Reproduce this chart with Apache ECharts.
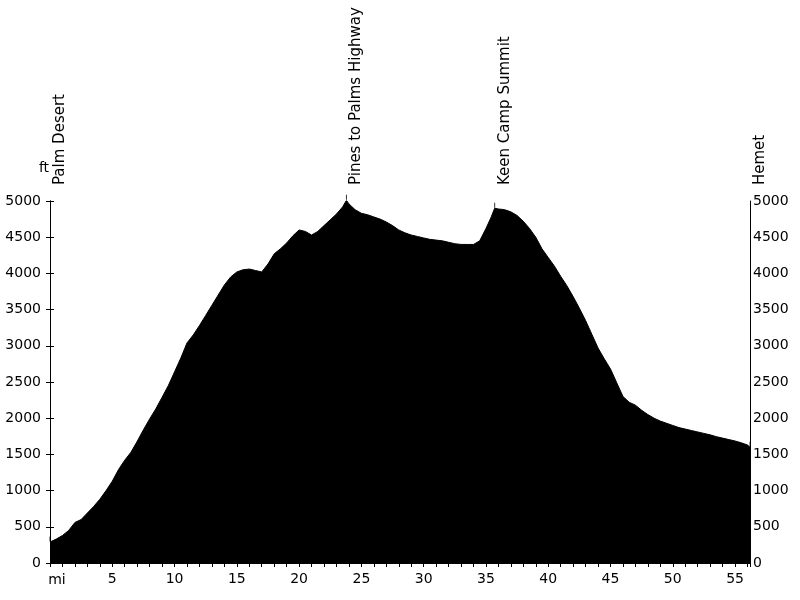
<!DOCTYPE html>
<html><head><meta charset="utf-8">
<script src="https://cdn.jsdelivr.net/npm/echarts@6/dist/echarts.min.js"></script>
<style>html,body{margin:0;padding:0;background:#fff}#c{width:800px;height:600px}</style>
</head><body><div id="c"></div>
<script>
const miles = [0,0.5,1,1.5,2,2.5,3,3.5,4,4.5,5,5.5,6,6.5,7,7.5,8,8.5,9,9.5,10,10.5,11,11.5,12,12.5,13,13.5,14,14.5,15,15.5,16,16.5,17,17.5,18,18.5,19,19.5,20,20.5,21,21.5,22,22.5,23,23.5,23.8,24,24.5,25,25.5,26,26.5,27,27.5,28,28.5,29,29.5,30,30.5,31,31.5,32,32.5,33,33.5,34,34.5,35,35.4,35.7,36,36.5,37,37.5,38,38.5,39,39.5,40,40.5,41,41.5,42,42.5,43,43.5,44,44.5,45,45.5,46,46.5,47,47.5,48,48.5,49,49.5,50,50.5,51,51.5,52,52.5,53,53.5,54,54.5,55,55.5,56,56.2];
const elevation = [290,330,380,450,560,600,690,780,880,1000,1130,1290,1420,1530,1680,1840,1990,2130,2290,2450,2640,2830,3040,3150,3280,3420,3560,3700,3840,3950,4020,4050,4060,4040,4020,4130,4270,4340,4420,4520,4600,4580,4530,4580,4660,4740,4820,4920,5010,4960,4880,4830,4810,4780,4750,4710,4660,4600,4560,4530,4510,4490,4470,4460,4450,4430,4410,4400,4400,4400,4450,4620,4770,4900,4890,4880,4850,4800,4720,4620,4500,4340,4220,4100,3960,3830,3680,3520,3350,3160,2970,2820,2680,2490,2300,2220,2180,2110,2050,2000,1960,1930,1900,1870,1850,1830,1810,1790,1770,1745,1725,1705,1685,1660,1630,1600];
const wpNames = ["Palm Desert","Pines to Palms Highway","Keen Camp Summit","Hemet"];
const wpMiles = [0,23.8,35.7,56.2];
const wpElev = [290,5010,4900,1600];

const FONT = 'DejaVu Sans';
const chart = echarts.init(document.getElementById('c'));
const profile = miles.map((m,i)=>[m,elevation[i]]);
const yBase = {type:'value',min:0,max:5000,interval:500,splitLine:{show:false},
  axisLine:{show:true,lineStyle:{color:'#000',width:1}}};
chart.setOption({
  animation:false,
  grid:{left:50,right:50,top:201,bottom:37,containLabel:false},
  xAxis:{type:'value',min:0,max:56.2,interval:5,
    axisLine:{show:true,lineStyle:{color:'#000'}},
    axisTick:{show:true,length:4,lineStyle:{color:'#000'}},
    minorTick:{show:true,splitNumber:5,length:4,lineStyle:{color:'#000'}},
    splitLine:{show:false},
    axisLabel:{color:'#000',fontFamily:FONT,fontSize:14,margin:9,
      formatter:v=> (v===0||v>56)?'':String(v)}},
  yAxis:[
    Object.assign({},yBase,{position:'left',
      axisTick:{show:true,length:4,inside:false,lineStyle:{color:'#000'}},
      axisLabel:{color:'#000',fontFamily:FONT,fontSize:14,margin:9,formatter:v=>String(v)}}),
    Object.assign({},yBase,{position:'left',offset:0,
      axisTick:{show:true,length:4,inside:true,lineStyle:{color:'#000'}},
      axisLabel:{show:false}}),
    Object.assign({},yBase,{position:'right',
      axisTick:{show:false},
      axisLabel:{color:'#000',fontFamily:FONT,fontSize:14,margin:3,formatter:v=>String(v)}})
  ],
  series:[
    {type:'line',data:profile,showSymbol:false,symbol:'none',
     lineStyle:{color:'#000',width:1},areaStyle:{color:'#000',opacity:1},z:2},
    {type:'scatter',data:wpMiles.map((m,i)=>[m,wpElev[i]]),symbol:'rect',
     symbolSize:[1,5],symbolOffset:[0,-3],itemStyle:{color:'#000'},z:3,clip:false}
  ]
});
const gfx=[];
wpNames.forEach((n,i)=>{
  const p=chart.convertToPixel({xAxisIndex:0,yAxisIndex:0},[wpMiles[i],0]);
  gfx.push({type:'text',x:p[0]+10,y:185,rotation:Math.PI/2,
    style:{text:n,fill:'#000',font:'15px "'+FONT+'"',align:'left',verticalAlign:'middle'}});
});
gfx.push({type:'text',x:44,y:168,style:{text:'ft',fill:'#000',font:'14px "'+FONT+'"',align:'center',verticalAlign:'middle'}});
gfx.push({type:'text',x:57,y:580,style:{text:'mi',fill:'#000',font:'14px "'+FONT+'"',align:'center',verticalAlign:'middle'}});
chart.setOption({graphic:gfx});
</script></body></html>
